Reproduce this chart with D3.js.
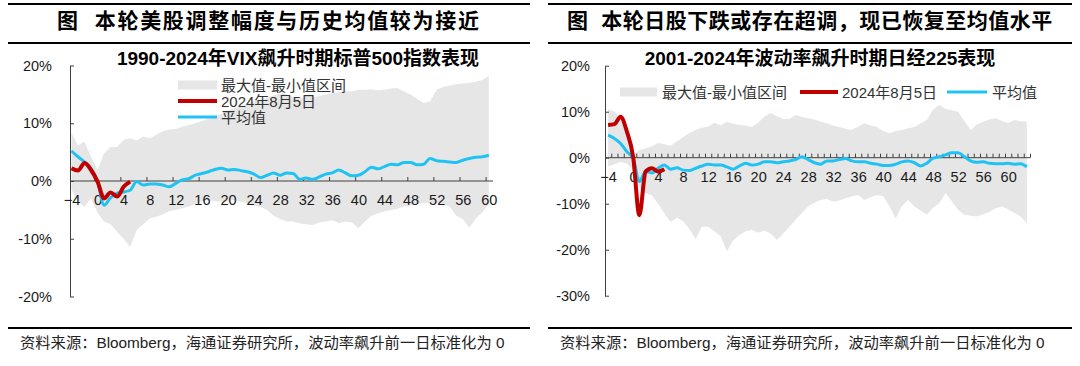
<!DOCTYPE html>
<html><head><meta charset="utf-8">
<script src="https://cdn.jsdelivr.net/npm/d3@7/dist/d3.min.js"></script>
<style>
body{margin:0;background:#fff;}
svg{display:block;font-family:"Liberation Sans","Noto Sans CJK SC",sans-serif;}
</style></head><body>
<svg id="c" width="1080" height="366"></svg>
<script>
// ---------- Data ----------
const titleL = "图  本轮美股调整幅度与历史均值较为接近";
const titleR = "图  本轮日股下跌或存在超调，现已恢复至均值水平";
const subL = "1990-2024年VIX飙升时期标普500指数表现";
const subR = "2001-2024年波动率飙升时期日经225表现";
const source = "资料来源：Bloomberg，海通证券研究所，波动率飙升前一日标准化为 0";
const legendNames = ["最大值-最小值区间", "2024年8月5日", "平均值"];

const daysL = d3.range(-4, 61);   // day offsets -4 … 60
const daysR = d3.range(-4, 64);   // day offsets -4 … 63
const augDays = [-4, -3, -2, -1, 0, 1, 2, 3, 4, 5];

const xLabels = [-4, 0, 4, 8, 12, 16, 20, 24, 28, 32, 36, 40, 44, 48, 52, 56, 60];
const yTicksL = [20, 10, 0, -10, -20];
const yTicksR = [20, 10, 0, -10, -20, -30];

// S&P 500 (%), day -4 … 60
const usMax = [8.3, 6.2, 6.8, 4.2, 1.9, 4.8, 5.9, 5.9, 7.1, 7.4, 7.0, 7.7, 7.4, 8.0, 8.6, 8.9, 9.0,
  9.4, 9.7, 10.0, 10.4, 10.8, 11.2, 11.6, 12.2, 12.6, 13.0, 13.4, 13.8, 14.0, 14.4, 14.8, 15.2,
  15.0, 14.6, 14.3, 14.6, 14.5, 14.7, 15.0, 15.2, 15.4, 15.6, 15.5, 15.8, 15.8, 15.9, 15.7, 15.8,
  16.0, 16.1, 15.5, 15.0, 14.2, 13.5, 13.8, 15.8, 16.3, 16.5, 16.8, 16.9, 17.0, 17.2, 17.5, 18.2];
const usMin = [-1.5, -3.5, -4.5, -3.0, -5.5, -7.0, -7.5, -8.8, -10.0, -11.4, -8.5, -7.5, -6.5, -6.2,
  -5.8, -5.2, -5.0, -4.7, -4.4, -4.0, -3.5, -3.3, -3.5, -3.6, -3.4, -3.3, -3.6, -3.8, -4.2, -4.5,
  -5.0, -6.0, -6.6, -7.0, -7.0, -7.3, -7.5, -7.6, -7.2, -7.0, -6.8, -7.3, -7.0, -7.2, -8.2, -7.0,
  -6.0, -5.6, -5.3, -5.0, -4.8, -4.4, -4.2, -4.0, -3.8, -3.8, -3.9, -4.0, -4.4, -6.0, -6.6, -8.1,
  -6.5, -5.4, -4.0];
const usMean = [5.2, 4.2, 3.3, 2.2, -0.1, -4.2, -2.9, -2.1, -1.9, -1.6, -0.1, -0.7, -0.5, -0.5, -0.7,
  -1.0, -0.4, 0.2, 0.4, 1.0, 1.3, 1.6, 2.0, 2.2, 1.9, 2.0, 1.8, 1.6, 1.2, 0.6, 1.0, 1.4, 1.0, 1.4,
  1.3, 0.3, 0.5, 0.3, 0.7, 1.2, 1.4, 1.9, 1.4, 0.9, 1.0, 1.6, 2.4, 2.1, 2.5, 2.9, 2.8, 3.2, 3.2,
  2.8, 2.9, 3.9, 3.5, 3.4, 3.3, 3.2, 3.6, 3.9, 4.1, 4.2, 4.45];
const usAug = [2.2, 1.8, 3.1, 1.9, -0.1, -3.0, -2.0, -2.7, -1.0, -0.1];

// Nikkei 225 (%), day -4 … 63
const jpMax = [10.6, 10.0, 8.6, 5.3, 0.6, 1.7, 2.0, 2.5, 3.2, 2.9, 2.6, 3.5, 4.5, 5.3, 6.0, 6.5,
  6.8, 7.6, 7.0, 7.8, 7.4, 7.1, 7.0, 6.7, 7.6, 8.9, 9.7, 9.0, 8.4, 8.4, 9.3, 8.9, 8.6, 8.3, 7.8,
  7.5, 7.0, 6.7, 6.3, 6.0, 6.8, 7.5, 7.0, 6.7, 5.8, 5.3, 5.8, 6.0, 6.4, 6.7, 7.5, 8.2, 10.5, 11.5,
  10.6, 10.3, 10.0, 8.0, 6.0, 7.2, 7.8, 8.3, 8.6, 8.0, 7.5, 8.2, 7.9, 7.8];
const jpMin = [-1.9, -1.5, -0.9, -1.3, -2.7, -6.5, -7.7, -8.2, -10.0, -12.1, -14.0, -13.0, -13.8,
  -15.5, -17.7, -15.0, -15.0, -16.0, -17.0, -20.4, -18.0, -16.8, -16.0, -15.7, -16.3, -15.8, -16.5,
  -17.9, -16.5, -15.0, -13.5, -12.0, -10.6, -9.8, -9.2, -9.0, -9.6, -9.3, -8.8, -8.4, -8.1, -9.2,
  -8.6, -8.1, -8.4, -10.5, -13.2, -10.5, -9.2, -10.6, -11.5, -12.4, -10.8, -9.9, -7.7, -9.5, -11.3,
  -12.4, -12.6, -12.8, -12.3, -11.8, -11.0, -10.6, -11.2, -12.0, -12.8, -14.3];
const jpMean = [4.9, 4.2, 3.1, 1.3, -0.1, -5.2, -3.0, -3.3, -2.3, -1.6, -2.5, -2.2, -2.7, -2.8, -2.3,
  -1.8, -1.4, -1.6, -1.6, -2.0, -2.5, -1.8, -1.2, -1.6, -1.4, -0.9, -0.9, -1.1, -0.9, -0.7, -0.4,
  0.2, -0.4, -1.1, -1.4, -0.7, -0.7, -0.4, -0.2, -0.7, -0.9, -0.9, -1.2, -1.4, -1.7, -1.7, -1.4,
  -0.9, -0.7, -1.1, -1.8, -1.2, -0.1, 0.2, 0.6, 1.1, 1.1, 0.2, -0.7, -1.0, -0.9, -1.2, -1.3, -1.3,
  -1.2, -1.4, -1.3, -2.0];
const jpAug = [7.1, 7.3, 8.9, 5.7, 0.2, -12.5, -3.0, -2.3, -3.0, -2.5];

// ---------- Styles ----------
const C = { band: "#e6e6e6", red: "#c00000", blue: "#1fc3f3", axis: "#404040", text: "#1a1a1a" };

const svg = d3.select("#c");

function panel(o) {
  const g = svg.append("g");
  // frame lines
  g.append("line").attr("x1", o.px0).attr("x2", o.px1).attr("y1", 4).attr("y2", 4).attr("stroke", "#000").attr("stroke-width", 2);
  g.append("line").attr("x1", o.px0).attr("x2", o.px1).attr("y1", 43).attr("y2", 43).attr("stroke", "#000").attr("stroke-width", 2);
  g.append("line").attr("x1", o.px0).attr("x2", o.px1).attr("y1", 328).attr("y2", 328).attr("stroke", "#000").attr("stroke-width", 2);
  g.append("text").attr("x", o.titleX).attr("y", 28).attr("font-size", 21).attr("font-weight", "bold")
    .attr("letter-spacing", o.titleLS).style("white-space", "pre").attr("fill", "#000").text(o.title);
  g.append("text").attr("x", o.subX).attr("y", 65).attr("text-anchor", "middle").attr("font-size", 19)
    .attr("font-weight", "bold").attr("fill", "#000").text(o.sub);
  g.append("text").attr("x", o.srcX).attr("y", 348).attr("font-size", 15.3).attr("fill", "#222").text(source);

  const x = o.x, y = o.y;
  const idx = o.days.map((d, i) => i);
  const area = d3.area().x(i => x(o.days[i])).y0(i => y(o.min[i])).y1(i => y(o.max[i]));
  g.append("path").datum(idx).attr("d", area).attr("fill", C.band);

  // y axis
  const ya = g.append("g").attr("transform", `translate(${o.yAxisX},0)`)
    .call(d3.axisLeft(y).tickValues(o.yTicks).tickFormat(d => d + "%").tickSizeInner(-4).tickSizeOuter(0).tickPadding(o.yPad));
  ya.select(".domain").attr("stroke", C.axis);
  ya.selectAll(".tick line").attr("stroke", C.axis);
  ya.selectAll("text").attr("font-size", 14.5).attr("fill", C.text).attr("font-family", "Liberation Sans, sans-serif");

  // x axis at 0
  const y0 = y(0);
  g.append("line").attr("x1", o.yAxisX).attr("x2", o.xEnd).attr("y1", y0).attr("y2", y0).attr("stroke", C.axis);
  const xt = g.append("g").attr("transform", `translate(0,${y0})`)
    .call(d3.axisTop(x).tickValues(o.tickPos).tickSize(4).tickSizeOuter(0).tickFormat(""));
  xt.select(".domain").remove();
  xt.selectAll(".tick line").attr("stroke", C.axis);
  const xl = g.append("g").attr("transform", `translate(0,${y0})`)
    .call(d3.axisBottom(x).tickValues(xLabels).tickSize(0).tickPadding(14));
  xl.select(".domain").remove();
  xl.selectAll("text").attr("font-size", 14.5).attr("fill", C.text).attr("font-family", "Liberation Sans, sans-serif");

  // lines
  const line = (vals, days) => d3.line().curve(d3.curveMonotoneX).x((v, i) => x(days[i])).y(v => y(v))(vals);
  g.append("path").attr("d", line(o.mean, o.days)).attr("fill", "none").attr("stroke", C.blue).attr("stroke-width", 3);
  g.append("path").attr("d", line(o.aug, augDays)).attr("fill", "none").attr("stroke", C.red).attr("stroke-width", 4).attr("stroke-linejoin", "round");

  return g;
}

const xL = d3.scaleLinear().domain([-4.5, 60.5]).range([68.2, 492.1]);
const yL = d3.scaleLinear().domain([-20, 20]).range([296.5, 65.5]);
const xR = d3.scaleLinear().domain([-4.5, 63.5]).range([605, 1030]);
const yR = d3.scaleLinear().domain([-30, 20]).range([295.7, 65.7]);

const gL = panel({ px0: 8, px1: 530, title: titleL, titleX: 57, titleLS: 1.7, sub: subL, subX: 298, srcX: 20,
  x: xL, y: yL, days: daysL, max: usMax, min: usMin, mean: usMean, aug: usAug,
  yAxisX: 70, yTicks: yTicksL, yPad: 18, xEnd: 493,
  tickPos: xLabels.filter(d => d > -4).map(d => d - 0.5) });
const gR = panel({ px0: 548, px1: 1072, title: titleR, titleX: 567, titleLS: 0.5, sub: subR, subX: 820, srcX: 560,
  x: xR, y: yR, days: daysR, max: jpMax, min: jpMin, mean: jpMean, aug: jpAug,
  yAxisX: 605, yTicks: yTicksR, yPad: 15, xEnd: 1030,
  tickPos: d3.range(-3.5, 64, 1) });

// Legends
function legendBox(g, x, y, w) { g.append("rect").attr("x", x).attr("y", y - 4.5).attr("width", w).attr("height", 9).attr("fill", C.band); }
function legendLine(g, x, y, w, col, sw) { g.append("line").attr("x1", x).attr("x2", x + w).attr("y1", y).attr("y2", y).attr("stroke", col).attr("stroke-width", sw); }
function legendText(g, x, y, t) { g.append("text").attr("x", x).attr("y", y + 5.5).attr("font-size", 15).attr("fill", "#333").text(t); }

legendBox(gL, 178, 85, 39); legendText(gL, 221, 85, legendNames[0]);
legendLine(gL, 178, 101, 39, C.red, 4); legendText(gL, 221, 101, legendNames[1]);
legendLine(gL, 178, 117, 39, C.blue, 3); legendText(gL, 221, 117, legendNames[2]);

legendBox(gR, 620, 92, 37); legendText(gR, 662, 92, legendNames[0]);
legendLine(gR, 800, 92, 38, C.red, 4); legendText(gR, 842, 92, legendNames[1]);
legendLine(gR, 947, 92, 40, C.blue, 3); legendText(gR, 992, 92, legendNames[2]);
</script>
</body></html>
